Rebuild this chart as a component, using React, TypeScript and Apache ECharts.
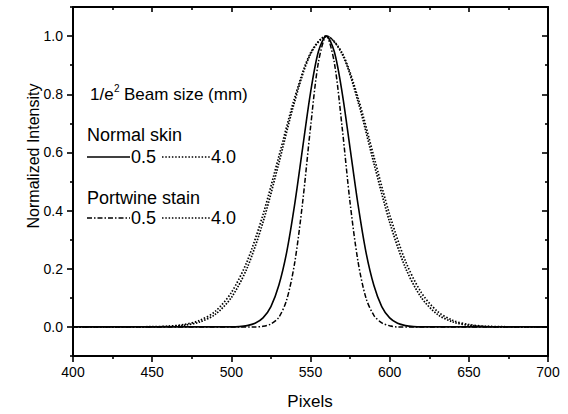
import React, { useEffect, useRef } from "react";
import * as echarts from "echarts";

const FONT = "'Liberation Sans', Arial, sans-serif";

// Normal skin, 0.5 mm (solid)
const normal05X = [400, 500, 505, 510, 515, 520, 525, 530, 535, 540, 545, 550, 555, 560, 565, 570, 575, 580, 585, 590, 595, 600, 605, 610, 615, 620, 700];
const normal05Y = [0, 0, 0.001, 0.0045, 0.0125, 0.031, 0.07, 0.143, 0.258, 0.421, 0.614, 0.805, 0.947, 1, 0.947, 0.805, 0.614, 0.421, 0.258, 0.143, 0.07, 0.031, 0.0125, 0.0045, 0.001, 0, 0];

// Portwine stain, 0.5 mm (dash-dot)
const port05X = [400, 515, 520, 525, 530, 535, 540, 545, 550, 555, 560, 565, 570, 575, 580, 585, 590, 595, 600, 605, 700];
const port05Y = [0, 0, 0.002, 0.01, 0.033, 0.094, 0.22, 0.427, 0.685, 0.91, 1, 0.91, 0.685, 0.427, 0.225, 0.1, 0.04, 0.014, 0.004, 0, 0];

// 4.0 mm beams (dotted)
const wideX = [400, 450, 460, 470, 480, 490, 500, 510, 520, 530, 540, 550, 560, 570, 580, 590, 600, 610, 620, 630, 640, 650, 660, 670, 700];
const normal40Y = [0, 0, 0.0017, 0.0057, 0.0169, 0.0439, 0.1007, 0.203, 0.36, 0.563, 0.775, 0.938, 1, 0.938, 0.775, 0.563, 0.36, 0.203, 0.1007, 0.0439, 0.0169, 0.0057, 0.0017, 0, 0];
const port40Y = [0, 0.0008, 0.0026, 0.0081, 0.0223, 0.0543, 0.118, 0.226, 0.386, 0.586, 0.788, 0.942, 1, 0.942, 0.788, 0.586, 0.386, 0.226, 0.118, 0.0543, 0.0223, 0.0081, 0.0026, 0.0008, 0];

const yMajorTicks = [0, 0.2, 0.4, 0.6, 0.8, 1.0];
const yMinorTicks = [-0.1, 0.1, 0.3, 0.5, 0.7, 0.9, 1.1];

const pairs = (xs: number[], ys: number[]) => xs.map((x, i) => [x, ys[i]]);

export default function App() {
  const ref = useRef<HTMLDivElement>(null);
  useEffect(() => {
    if (!ref.current) return;
    const chart = echarts.init(ref.current, undefined, { renderer: "svg" });
    const axisLine = { show: true, onZero: false, lineStyle: { color: "#000", width: 2 } };
    const tickStyle = { color: "#000", width: 1.6 };
    const yBase = { type: "value", min: -0.1, max: 1.1, splitLine: { show: false } };
    const xBase = {
      type: "value",
      min: 400,
      max: 700,
      interval: 50,
      splitLine: { show: false },
      minorSplitLine: { show: false },
    };
    const lineSeries = (name: string, data: number[][], type: any, width: number) => ({
      name,
      type: "line",
      data,
      showSymbol: false,
      symbol: "none",
      smooth: 0.3,
      lineStyle: { color: "#000", width, type },
      z: 3,
    });
    const txt = (text: string, x: number, y: number, size: number, align = "left") => ({
      type: "text",
      x,
      y,
      style: {
        text,
        fill: "#000",
        fontSize: size,
        fontFamily: FONT,
        align,
        textAlign: align,
        verticalAlign: "middle",
        textVerticalAlign: "middle",
      },
      z: 10,
    });
    const seg = (x1: number, x2: number, y: number, dash: any) => ({
      type: "line",
      shape: { x1, y1: y, x2, y2: y },
      style: { stroke: "#000", lineWidth: 1.5, lineDash: dash },
      z: 10,
    });
    chart.setOption({
      animation: false,
      backgroundColor: "#fff",
      grid: { left: 73, right: 20, top: 7, bottom: 58, containLabel: false },
      xAxis: [
        {
          ...xBase,
          position: "bottom",
          axisLine,
          axisTick: { show: true, inside: false, length: 6, lineStyle: tickStyle },
          minorTick: { show: true, splitNumber: 2, length: 3, lineStyle: tickStyle },
          axisLabel: { color: "#000", fontSize: 14, fontFamily: FONT, margin: 9 },
        },
        {
          ...xBase,
          position: "top",
          axisLine,
          axisTick: { show: true, inside: true, length: 5, lineStyle: tickStyle },
          minorTick: { show: true, splitNumber: 2, length: 3, lineStyle: tickStyle },
          axisLabel: { show: false },
        },
      ],
      yAxis: [
        {
          ...yBase,
          position: "left",
          axisLine,
          axisTick: { show: true, inside: false, length: 6, lineStyle: tickStyle, customValues: yMajorTicks },
          axisLabel: {
            color: "#000",
            fontSize: 14,
            fontFamily: FONT,
            margin: 10,
            customValues: yMajorTicks,
            formatter: (v: number) => v.toFixed(1),
          },
        },
        {
          ...yBase,
          position: "left",
          axisLine: { show: false, onZero: false },
          axisTick: { show: true, inside: false, length: 3, lineStyle: tickStyle, customValues: yMinorTicks },
          axisLabel: { show: false },
        },
        {
          ...yBase,
          position: "right",
          axisLine,
          axisTick: { show: true, inside: true, length: 6, lineStyle: tickStyle, customValues: yMajorTicks },
          axisLabel: { show: false },
        },
        {
          ...yBase,
          position: "right",
          axisLine: { show: false, onZero: false },
          axisTick: { show: true, inside: true, length: 3, lineStyle: tickStyle, customValues: yMinorTicks },
          axisLabel: { show: false },
        },
      ],
      series: [
        lineSeries("Normal skin 4.0", pairs(wideX, normal40Y), [1.5, 1.5], 1.7),
        lineSeries("Portwine stain 4.0", pairs(wideX, port40Y), [1.5, 1.8], 1.7),
        lineSeries("Portwine stain 0.5", pairs(port05X, port05Y), [5, 2, 1.5, 2], 1.5),
        lineSeries("Normal skin 0.5", pairs(normal05X, normal05Y), "solid", 1.6),
      ],
      graphic: [
        txt("1/e", 90, 94, 17),
        txt("2", 114, 88, 10),
        txt("Beam size (mm)", 124, 94, 17),
        txt("Normal skin", 87, 135, 18),
        seg(87, 130, 157, null),
        txt("0.5", 131, 157, 18),
        seg(162, 210, 157, [1.5, 1.8]),
        txt("4.0", 211, 157, 18),
        txt("Portwine stain", 87, 198, 18),
        seg(87, 130, 218, [5, 2, 1.5, 2]),
        txt("0.5", 131, 218, 18),
        seg(162, 210, 218, [1.5, 1.8]),
        txt("4.0", 211, 218, 18),
        txt("Pixels", 310, 401, 17, "center"),
        {
          type: "text",
          x: 33,
          y: 156,
          rotation: Math.PI / 2,
          style: {
            text: "Normalized Intensity",
            fill: "#000",
            fontSize: 16,
            fontFamily: FONT,
            align: "center",
            textAlign: "center",
            verticalAlign: "middle",
            textVerticalAlign: "middle",
          },
          z: 10,
        },
      ],
    });
    return () => chart.dispose();
  }, []);
  return (
    <div
      ref={ref}
      style={{ position: "fixed", left: 0, top: 0, width: 568, height: 414, background: "#fff" }}
    />
  );
}
